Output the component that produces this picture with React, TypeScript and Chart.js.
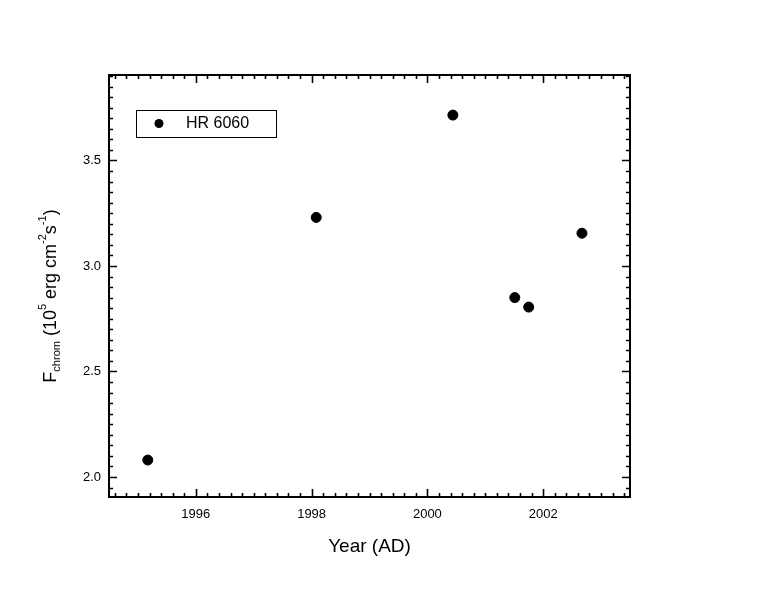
import React, { useEffect, useRef } from "react";
import { Chart, registerables } from "chart.js";

Chart.register(...registerables);

const seriesLabel = "HR 6060";
const years = [1995.17, 1998.08, 2000.44, 2001.51, 2001.75, 2002.67];
const fluxes = [2.08, 3.23, 3.715, 2.85, 2.805, 3.155];
const xTicks = [1996, 1998, 2000, 2002];
const yTicks = [2.0, 2.5, 3.0, 3.5];
const xRange = [1994.5, 2003.5];
const yRange = [1.905, 3.905];
const xMinorStep = 0.2;
const yMinorStep = 0.05;

const FONT = "'Liberation Sans', Arial, sans-serif";

const axisPlugin = {
  id: "originAxes",
  afterDraw(chart: any) {
    const ctx = chart.ctx as CanvasRenderingContext2D;
    const { left, right, top, bottom } = chart.chartArea;
    const xs = chart.scales.x;
    const ys = chart.scales.y;
    ctx.save();
    ctx.strokeStyle = "#000";
    ctx.fillStyle = "#000";
    ctx.lineWidth = 2;
    ctx.strokeRect(left, top, right - left, bottom - top);
    const isMajor = (v: number, arr: number[]) => arr.some((m) => Math.abs(m - v) < 1e-6);
    ctx.lineWidth = 1.6;
    const x0 = Math.ceil(xRange[0] / xMinorStep - 1e-6) * xMinorStep;
    for (let v = x0; v <= xRange[1] + 1e-6; v += xMinorStep) {
      const vv = Math.round(v * 100) / 100;
      const px = Math.round(xs.getPixelForValue(vv)) + 0.5;
      if (px <= left + 1 || px >= right - 1) continue;
      const len = isMajor(vv, xTicks) ? 8 : 4;
      ctx.beginPath();
      ctx.moveTo(px, bottom);
      ctx.lineTo(px, bottom - len);
      ctx.moveTo(px, top);
      ctx.lineTo(px, top + len);
      ctx.stroke();
    }
    const y0 = Math.ceil(yRange[0] / yMinorStep - 1e-6) * yMinorStep;
    for (let v = y0; v <= yRange[1] + 1e-6; v += yMinorStep) {
      const vv = Math.round(v * 1000) / 1000;
      const py = Math.round(ys.getPixelForValue(vv)) + 0.5;
      if (py <= top + 1 || py >= bottom - 1) continue;
      const len = isMajor(vv, yTicks) ? 8 : 4;
      ctx.beginPath();
      ctx.moveTo(left, py);
      ctx.lineTo(left + len, py);
      ctx.moveTo(right, py);
      ctx.lineTo(right - len, py);
      ctx.stroke();
    }
    // legend
    const lx = left + 27;
    const ly = top + 35;
    const lw = 140;
    const lh = 27;
    ctx.lineWidth = 1;
    ctx.strokeRect(lx + 0.5, ly + 0.5, lw, lh);
    ctx.beginPath();
    ctx.arc(lx + 23, ly + 13.5, 4.5, 0, Math.PI * 2);
    ctx.fill();
    ctx.font = `16px ${FONT}`;
    ctx.textBaseline = "middle";
    ctx.textAlign = "left";
    ctx.fillText(chart.data.datasets[0].label, lx + 50, ly + 14);
    // x title
    ctx.font = `19px ${FONT}`;
    ctx.textAlign = "center";
    ctx.textBaseline = "middle";
    ctx.fillText("Year (AD)", (left + right) / 2, bottom + 50);
    // y title with sub/superscripts
    ctx.translate(left - 58, (top + bottom) / 2 + 10);
    ctx.rotate(-Math.PI / 2);
    const parts: [string, number, number][] = [
      ["F", 18, 0],
      ["chrom", 11, 6],
      [" (10", 18, 0],
      ["5", 11, -8],
      [" erg cm", 18, 0],
      ["-2", 11, -8],
      ["s", 18, 0],
      ["-1", 11, -8],
      [")", 18, 0],
    ];
    let total = 0;
    for (const [t, s] of parts) {
      ctx.font = `${s}px ${FONT}`;
      total += ctx.measureText(t).width;
    }
    let cx = -total / 2;
    ctx.textAlign = "left";
    ctx.textBaseline = "middle";
    for (const [t, s, dy] of parts) {
      ctx.font = `${s}px ${FONT}`;
      ctx.fillText(t, cx, dy);
      cx += ctx.measureText(t).width;
    }
    ctx.restore();
  },
};

export default function App() {
  const ref = useRef<HTMLCanvasElement | null>(null);
  useEffect(() => {
    if (!ref.current) return;
    const chart = new Chart(ref.current, {
      type: "scatter",
      data: {
        datasets: [
          {
            label: seriesLabel,
            data: years.map((x, i) => ({ x, y: fluxes[i] })),
            backgroundColor: "#000",
            borderColor: "#000",
            pointRadius: 5,
            pointHoverRadius: 5,
          },
        ],
      },
      options: {
        animation: false,
        responsive: false,
        maintainAspectRatio: false,
        layout: { padding: { left: 0, top: 75, right: 141, bottom: 0 } },
        plugins: { legend: { display: false }, tooltip: { enabled: false } },
        scales: {
          x: {
            type: "linear",
            min: xRange[0],
            max: xRange[1],
            afterBuildTicks: (s: any) => {
              s.ticks = xTicks.map((v) => ({ value: v }));
            },
            afterFit: (s: any) => {
              s.height = 100;
            },
            grid: { display: false, drawTicks: false },
            border: { display: false },
            ticks: {
              padding: 10,
              color: "#000",
              font: { family: FONT, size: 13 },
              callback: (v: any) => String(v),
              maxRotation: 0,
            },
          },
          y: {
            type: "linear",
            min: yRange[0],
            max: yRange[1],
            afterBuildTicks: (s: any) => {
              s.ticks = yTicks.map((v) => ({ value: v }));
            },
            afterFit: (s: any) => {
              s.width = 109;
            },
            grid: { display: false, drawTicks: false },
            border: { display: false },
            ticks: {
              padding: 8,
              color: "#000",
              font: { family: FONT, size: 13 },
              callback: (v: any) => Number(v).toFixed(1),
            },
          },
        },
      },
      plugins: [axisPlugin],
    });
    return () => chart.destroy();
  }, []);
  return (
    <div style={{ position: "fixed", left: 0, top: 0, width: 771, height: 597, background: "#fff" }}>
      <canvas ref={ref} width={771} height={597} style={{ width: 771, height: 597 }} />
    </div>
  );
}
